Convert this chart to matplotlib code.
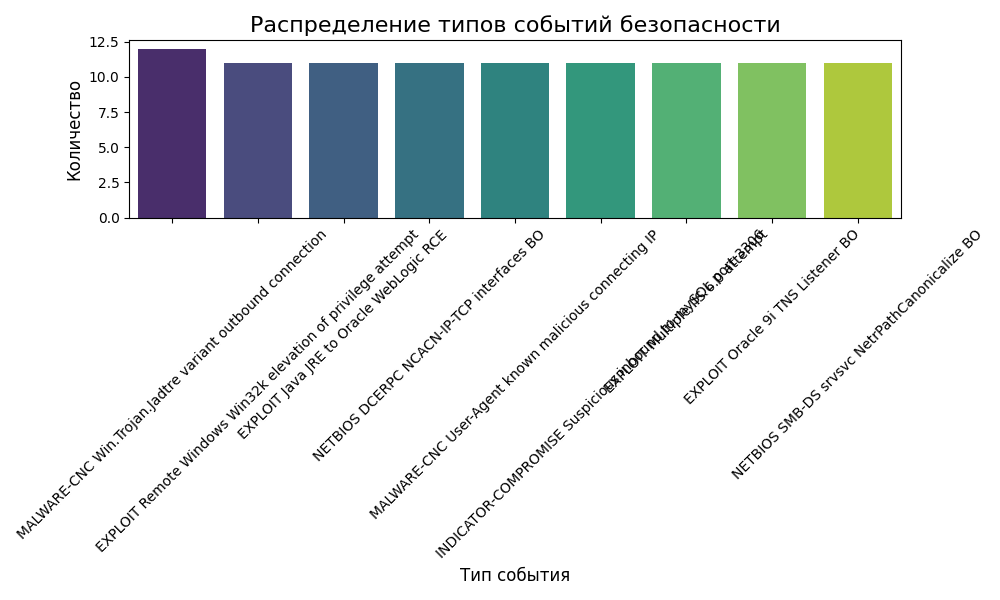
import matplotlib
matplotlib.use("Agg")
import matplotlib.pyplot as plt
import seaborn as sns

event_types = [
    "MALWARE-CNC Win.Trojan.Jadtre variant outbound connection",
    "EXPLOIT Remote Windows Win32k elevation of privilege attempt",
    "EXPLOIT Java JRE to Oracle WebLogic RCE",
    "NETBIOS DCERPC NCACN-IP-TCP interfaces BO",
    "MALWARE-CNC User-Agent known malicious connecting IP",
    "INDICATOR-COMPROMISE Suspicious inbound to mySQL port 3306",
    "EXPLOIT Multiple IIS 6.0 attempt",
    "EXPLOIT Oracle 9i TNS Listener BO",
    "NETBIOS SMB-DS srvsvc NetrPathCanonicalize BO",
]
counts = [12, 11, 11, 11, 11, 11, 11, 11, 11]

plt.figure(figsize=(10, 6))
sns.barplot(x=event_types, y=counts, hue=event_types, palette="viridis", legend=False)
plt.title("Распределение типов событий безопасности", fontsize=16)
plt.xlabel("Тип события", fontsize=12)
plt.ylabel("Количество", fontsize=12)
plt.xticks(rotation=45)
plt.tight_layout()
plt.savefig("out.png", dpi=100)
